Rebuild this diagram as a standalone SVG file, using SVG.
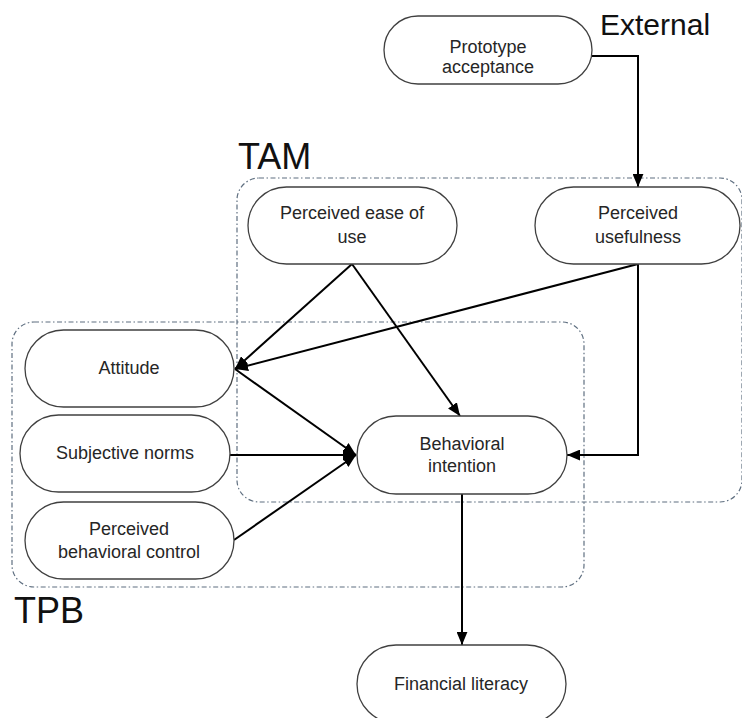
<svg xmlns="http://www.w3.org/2000/svg" width="742" height="718" viewBox="0 0 742 718">
<style>
.node rect{fill:#fff;stroke:#404040;stroke-width:1.3}
.node text{font-family:"Liberation Sans",Arial,sans-serif;font-size:18px;fill:#262626;text-anchor:middle}
.grp{fill:none;stroke:#5f6f80;stroke-width:1.2;stroke-dasharray:5 2.5 1.5 2.5}
.lbl{font-family:"Liberation Sans",Arial,sans-serif;fill:#111}
.conn path{fill:none;stroke:#000;stroke-width:2}
</style>
<defs>
<marker id="ah" viewBox="0 0 12 10" refX="12" refY="5" markerWidth="13" markerHeight="11" markerUnits="userSpaceOnUse" orient="auto">
<path d="M0,0 L12,5 L0,10 Z" fill="#000"/>
</marker>
</defs>
<rect fill="#fff" width="742" height="718"/>
<g id="groups">
<rect class="grp" x="237" y="178" width="505" height="324" rx="22"/>
<rect class="grp" x="12" y="322" width="572" height="265" rx="22"/>
<text class="lbl" x="238" y="169" font-size="36">TAM</text>
<text class="lbl" x="14" y="623" font-size="36">TPB</text>
<text class="lbl" x="600" y="35" font-size="30">External</text>
</g>
<g id="connectors" class="conn">
<path d="M592,56 H638 V187" marker-end="url(#ah)"/>
<path d="M352,264 L235,369" marker-end="url(#ah)"/>
<path d="M638,264 L235,369" marker-end="url(#ah)"/>
<path d="M352,264 L460,416" marker-end="url(#ah)"/>
<path d="M235,369 L356,455" marker-end="url(#ah)"/>
<path d="M230,455 L356,455" marker-end="url(#ah)"/>
<path d="M234,540 L356,455" marker-end="url(#ah)"/>
<path d="M638,264 V455 H567" marker-end="url(#ah)"/>
<path d="M462,494 V645" marker-end="url(#ah)"/>
</g>
<g id="proto" class="node"><rect x="384" y="16" width="208" height="68" rx="34"/><text x="488" y="53">Prototype</text><text x="488" y="73">acceptance</text></g>
<g id="peou" class="node"><rect x="248" y="187" width="209" height="77" rx="38.5"/><text x="352" y="219">Perceived ease of</text><text x="352" y="243">use</text></g>
<g id="pu" class="node"><rect x="535" y="187" width="205" height="77" rx="38.5"/><text x="638" y="219">Perceived</text><text x="638" y="243">usefulness</text></g>
<g id="att" class="node"><rect x="25" y="330" width="209" height="77" rx="38.5"/><text x="129" y="374">Attitude</text></g>
<g id="sn" class="node"><rect x="20" y="415" width="210" height="77" rx="38.5"/><text x="125" y="459">Subjective norms</text></g>
<g id="pbc" class="node"><rect x="25" y="502" width="209" height="77" rx="38.5"/><text x="129" y="535">Perceived</text><text x="129" y="558">behavioral control</text></g>
<g id="bi" class="node"><rect x="357" y="416" width="210" height="78" rx="39"/><text x="462" y="450">Behavioral</text><text x="462" y="472">intention</text></g>
<g id="fl" class="node"><rect x="357" y="645" width="209" height="78" rx="39"/><text x="461" y="690">Financial literacy</text></g>
</svg>
